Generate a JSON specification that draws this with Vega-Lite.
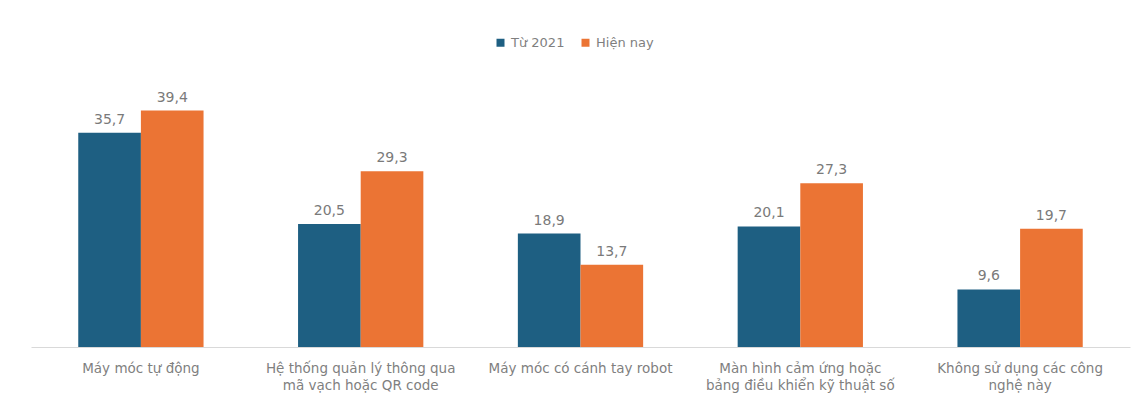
{
  "$schema": "https://vega.github.io/schema/vega-lite/v6.json",
  "autosize": {"type": "none"},
  "padding": {"left": 31, "top": 107, "right": 12, "bottom": 56},
  "width": 1099,
  "height": 240,
  "background": "white",
  "config": {
    "locale": {"number": {"decimal": ",", "thousands": ".", "grouping": [3], "currency": ["", ""]}},
    "view": {"stroke": null},
    "font": "DejaVu Sans"
  },
  "data": {
    "values": [
      {"category": "Máy móc tự động", "series": "Từ 2021", "value": 35.7},
      {"category": "Máy móc tự động", "series": "Hiện nay", "value": 39.4},
      {"category": "Hệ thống quản lý thông qua mã vạch hoặc QR code", "series": "Từ 2021", "value": 20.5},
      {"category": "Hệ thống quản lý thông qua mã vạch hoặc QR code", "series": "Hiện nay", "value": 29.3},
      {"category": "Máy móc có cánh tay robot", "series": "Từ 2021", "value": 18.9},
      {"category": "Máy móc có cánh tay robot", "series": "Hiện nay", "value": 13.7},
      {"category": "Màn hình cảm ứng hoặc bảng điều khiển kỹ thuật số", "series": "Từ 2021", "value": 20.1},
      {"category": "Màn hình cảm ứng hoặc bảng điều khiển kỹ thuật số", "series": "Hiện nay", "value": 27.3},
      {"category": "Không sử dụng các công nghệ này", "series": "Từ 2021", "value": 9.6},
      {"category": "Không sử dụng các công nghệ này", "series": "Hiện nay", "value": 19.7}
    ]
  },
  "encoding": {
    "x": {
      "field": "category",
      "type": "nominal",
      "sort": null,
      "scale": {"paddingInner": 0.43, "paddingOuter": 0.215},
      "axis": {
        "title": null,
        "labelAngle": 0,
        "ticks": false,
        "domainColor": "#d9d9d9",
        "domainWidth": 1,
        "labelColor": "#7f7f7f",
        "labelFontSize": 13.5,
        "labelPadding": 14,
        "labelLineHeight": 17,
        "labelLimit": 260,
        "labelExpr": "datum.value == 'Hệ thống quản lý thông qua mã vạch hoặc QR code' ? ['Hệ thống quản lý thông qua', 'mã vạch hoặc QR code'] : datum.value == 'Màn hình cảm ứng hoặc bảng điều khiển kỹ thuật số' ? ['Màn hình cảm ứng hoặc', 'bảng điều khiển kỹ thuật số'] : datum.value == 'Không sử dụng các công nghệ này' ? ['Không sử dụng các công', 'nghệ này'] : datum.value"
      }
    },
    "xOffset": {"field": "series", "type": "nominal", "sort": ["Từ 2021", "Hiện nay"]},
    "y": {
      "field": "value",
      "type": "quantitative",
      "scale": {"domain": [0, 40], "nice": false},
      "axis": null
    }
  },
  "layer": [
    {
      "mark": {"type": "bar"},
      "encoding": {
        "color": {
          "field": "series",
          "type": "nominal",
          "sort": ["Từ 2021", "Hiện nay"],
          "scale": {"domain": ["Từ 2021", "Hiện nay"], "range": ["#1e5f82", "#eb7434"]},
          "legend": {
            "title": null,
            "orient": "none",
            "direction": "horizontal",
            "legendX": 463,
            "legendY": -71,
            "symbolType": "square",
            "symbolSize": 64,
            "symbolStrokeWidth": 0,
            "labelColor": "#7f7f7f",
            "labelFontSize": 13,
            "columnPadding": 14,
            "labelOffset": 4
          }
        }
      }
    },
    {
      "mark": {"type": "text", "dy": -13, "color": "#7a7a7a", "fontSize": 14},
      "encoding": {
        "text": {"field": "value", "type": "quantitative", "format": ".1f"}
      }
    }
  ]
}
